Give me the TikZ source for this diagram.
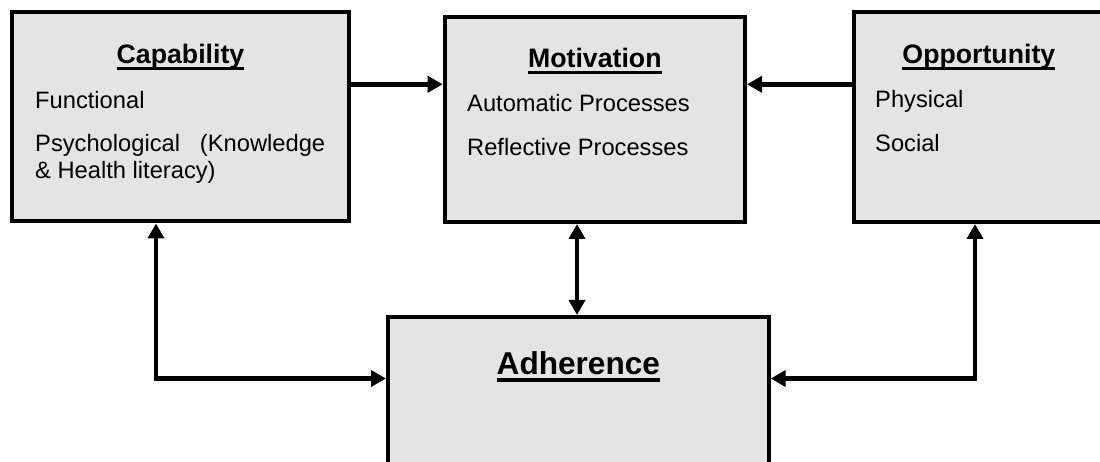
\documentclass[tikz,border=0pt]{standalone}
\usepackage{fontspec}
\setmainfont{Liberation Sans}
\usetikzlibrary{arrows.meta}

\definecolor{boxgray}{RGB}{228,228,228}

% underline at a fixed depth below the baseline, crossing descenders
\newcommand\titleul[1]{\setbox0\hbox{#1}\rlap{\rule[-0.24em]{\wd0}{0.11em}}\box0}

\tikzset{
  panel/.style={draw=black, fill=boxgray, line width=4pt, rectangle, inner sep=0pt},
  heading/.style={font=\fontsize{26.7}{30}\selectfont\bfseries, inner sep=0pt, anchor=base},
  bigheading/.style={font=\fontsize{31.6}{36}\selectfont\bfseries, inner sep=0pt, anchor=base},
  item/.style={font=\fontsize{23.7}{27}\selectfont, inner sep=0pt, anchor=base west},
  link/.style={line width=4.5pt, -{Triangle[length=15pt,width=16pt]}},
  twoway/.style={line width=4.5pt, {Triangle[length=15pt,width=16pt]}-{Triangle[length=15pt,width=16pt]}}
}

\begin{document}
\begin{tikzpicture}[x=1pt,y=-1pt]
\useasboundingbox (0,0) rectangle (1100,462);
\clip (0,0) rectangle (1100,462);

% the four boxes
\node[panel, minimum width=337pt, minimum height=209.5pt] (cap) at (180.5,116.75) {};
\node[panel, minimum width=300.3pt, minimum height=205pt] (mot) at (594.85,119.5) {};
\node[panel, minimum width=250.3pt, minimum height=210pt] (opp) at (978.85,117) {};
\node[panel, minimum width=380.7pt, minimum height=160pt] (adh) at (578.35,397) {};

% Capability
\node[heading] (capT) at (180.5,64) {\titleul{Capability}};
\node[item] (cap1) at (35,108.3) {Functional};
\node[item] (cap2) at (35,151.7) {\hbox to 290pt{Psychological\hfill(Knowledge}};
\node[item] (cap3) at (35,178.3) {\& Health literacy)};

% Motivation
\node[heading] (motT) at (594.85,68) {\titleul{Motivation}};
\node[item] (mot1) at (467,111.7) {Automatic Processes};
\node[item] (mot2) at (467,156) {Reflective Processes};

% Opportunity
\node[heading] (oppT) at (978.85,64) {\titleul{Opportunity}};
\node[item] (opp1) at (875,107.3) {Physical};
\node[item] (opp2) at (875,151.7) {Social};

% Adherence
\node[bigheading] (adhT) at (578.35,374) {\titleul{Adherence}};

% routing helpers
\coordinate (toprow) at (0,84.3);
\coordinate (lowrow) at (0,378.5);
\coordinate (lcol) at (156,0);
\coordinate (mcol) at (577,0);
\coordinate (rcol) at (975,0);

% connectors
\draw[link] (cap.east |- toprow) -- (mot.west |- toprow);
\draw[link] (opp.west |- toprow) -- (mot.east |- toprow);
\draw[twoway] (mot.south -| mcol) -- (adh.north -| mcol);
\draw[twoway] (cap.south -| lcol) |- (adh.west |- lowrow);
\draw[twoway] (opp.south -| rcol) |- (adh.east |- lowrow);
\end{tikzpicture}
\end{document}
